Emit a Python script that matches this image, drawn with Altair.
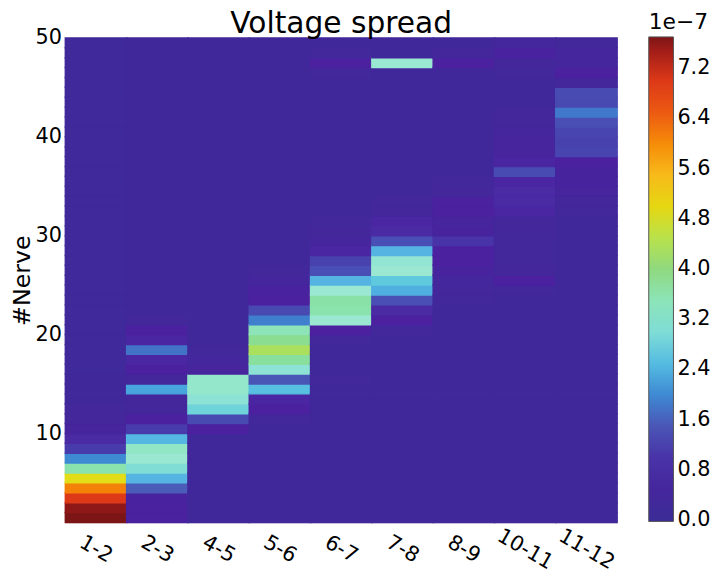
import altair as alt
import pandas as pd

pairs = ["1-2", "2-3", "4-5", "5-6", "6-7", "7-8", "8-9", "10-11", "11-12"]

# values in units of 1e-7, nerve 1 (bottom) .. nerve 49 (top)
col_1_2 = [7.7, 7.6, 7.0, 6.1, 4.9, 3.6, 2.0, 1.1, 0.9, 0.55,
           0.4, 0.35, 0.3, 0.3, 0.3, 0.25, 0.25, 0.25, 0.25, 0.25,
           0.25, 0.25, 0.25, 0.25, 0.25, 0.25, 0.25, 0.25, 0.25, 0.25,
           0.25, 0.25, 0.25, 0.25, 0.25, 0.25, 0.25, 0.25, 0.25, 0.25,
           0.25, 0.25, 0.25, 0.25, 0.25, 0.25, 0.25, 0.25, 0.25]
col_2_3 = [0.75, 0.75, 0.7, 1.6, 2.4, 3.0, 3.2, 3.35, 2.45, 1.1,
           0.8, 0.4, 0.4, 2.25, 0.4, 0.8, 0.85, 1.8, 0.85, 0.8,
           0.35, 0.3, 0.3, 0.3, 0.3, 0.3, 0.3, 0.3, 0.3, 0.3,
           0.3, 0.3, 0.3, 0.3, 0.3, 0.3, 0.3, 0.3, 0.3, 0.3,
           0.3, 0.3, 0.3, 0.3, 0.3, 0.3, 0.3, 0.3, 0.3]
col_4_5 = [0.3, 0.3, 0.3, 0.3, 0.3, 0.3, 0.3, 0.3, 0.3, 0.8,
           1.3, 2.85, 3.1, 3.3, 3.3, 0.55, 0.45, 0.35, 0.3, 0.3,
           0.3, 0.3, 0.3, 0.3, 0.3, 0.3, 0.3, 0.3, 0.3, 0.3,
           0.3, 0.3, 0.3, 0.3, 0.3, 0.3, 0.3, 0.3, 0.3, 0.3,
           0.3, 0.3, 0.3, 0.3, 0.3, 0.3, 0.3, 0.3, 0.3]
col_5_6 = [0.3, 0.3, 0.3, 0.3, 0.3, 0.3, 0.3, 0.3, 0.3, 0.3,
           0.35, 0.8, 0.85, 2.55, 1.5, 3.1, 3.75, 4.35, 3.85, 3.5,
           1.9, 1.3, 0.8, 0.7, 0.5, 0.35, 0.3, 0.3, 0.3, 0.3,
           0.3, 0.3, 0.3, 0.3, 0.3, 0.3, 0.3, 0.3, 0.3, 0.3,
           0.3, 0.3, 0.3, 0.3, 0.3, 0.3, 0.3, 0.3, 0.3]
col_6_7 = [0.3, 0.3, 0.3, 0.3, 0.3, 0.3, 0.3, 0.3, 0.3, 0.3,
           0.3, 0.3, 0.3, 0.3, 0.35, 0.3, 0.3, 0.3, 0.35, 0.8,
           3.2, 3.6, 3.65, 3.2, 2.4, 1.4, 1.2, 0.85, 0.5, 0.4,
           0.35, 0.3, 0.3, 0.3, 0.3, 0.3, 0.3, 0.3, 0.3, 0.3,
           0.3, 0.3, 0.3, 0.3, 0.3, 0.35, 0.8, 0.35, 0.3]
col_7_8 = [0.3, 0.3, 0.3, 0.3, 0.3, 0.3, 0.3, 0.3, 0.3, 0.3,
           0.3, 0.3, 0.3, 0.3, 0.3, 0.3, 0.3, 0.3, 0.3, 0.35,
           0.8, 0.9, 1.4, 2.35, 2.7, 3.2, 3.15, 2.4, 1.4, 0.9,
           0.85, 0.4, 0.35, 0.3, 0.3, 0.3, 0.3, 0.3, 0.3, 0.3,
           0.3, 0.3, 0.3, 0.3, 0.3, 0.3, 3.2, 0.3, 0.3]
col_8_9 = [0.3, 0.3, 0.3, 0.3, 0.3, 0.3, 0.3, 0.3, 0.3, 0.3,
           0.3, 0.3, 0.3, 0.3, 0.3, 0.3, 0.3, 0.3, 0.3, 0.3,
           0.3, 0.3, 0.35, 0.4, 0.45, 0.6, 0.8, 0.8, 1.0, 0.6,
           0.55, 0.8, 0.75, 0.4, 0.35, 0.3, 0.3, 0.3, 0.3, 0.3,
           0.3, 0.3, 0.3, 0.3, 0.3, 0.3, 0.8, 0.4, 0.3]
col_10_11 = [0.3, 0.3, 0.3, 0.3, 0.3, 0.3, 0.3, 0.3, 0.3, 0.3,
             0.3, 0.3, 0.3, 0.3, 0.3, 0.3, 0.3, 0.3, 0.3, 0.3,
             0.3, 0.3, 0.3, 0.35, 0.8, 0.4, 0.35, 0.35, 0.35, 0.35,
             0.4, 0.85, 0.9, 0.9, 0.85, 1.35, 0.85, 0.55, 0.55, 0.5,
             0.4, 0.35, 0.3, 0.3, 0.3, 0.35, 0.4, 0.7, 0.45]
col_11_12 = [0.3, 0.3, 0.3, 0.3, 0.3, 0.3, 0.3, 0.3, 0.3, 0.3,
             0.3, 0.3, 0.3, 0.3, 0.3, 0.3, 0.3, 0.3, 0.3, 0.3,
             0.3, 0.3, 0.3, 0.3, 0.3, 0.3, 0.3, 0.3, 0.3, 0.3,
             0.3, 0.35, 0.4, 0.55, 0.6, 0.6, 0.8, 1.25, 1.2, 1.25,
             1.4, 1.85, 1.3, 1.35, 0.4, 0.8, 0.5, 0.5, 0.35]

columns = [col_1_2, col_2_3, col_4_5, col_5_6, col_6_7, col_7_8,
           col_8_9, col_10_11, col_11_12]

# colormap stops (value in 1e-7)
cmap_stops = [-0.02, 0.8, 1.6, 2.4, 3.2, 4.0, 4.8, 5.6, 6.4, 7.2, 7.7]
cmap_colors = ["#3b2c96", "#4b21a0", "#4b5cb8", "#55b4e2", "#9ae8d2",
               "#8fd97f", "#dde31b", "#f9b41e", "#ef5f10", "#d62a1a",
               "#7c1515"]
bar_ticks = [0.0, 0.8, 1.6, 2.4, 3.2, 4.0, 4.8, 5.6, 6.4, 7.2]
y_ticks = [10, 20, 30, 40, 50]

rows = []
for p, col in zip(pairs, columns):
    assert len(col) == 49
    for i, v in enumerate(col):
        rows.append({"pair": p, "nerve": i + 1, "nerve_end": i + 2, "v": v})
df = pd.DataFrame(rows)

FONT = "DejaVu Sans"

chart = alt.Chart(df).mark_rect(
    strokeWidth=1.5, stroke=alt.expr("scale('color', datum.v)")
).encode(
    x=alt.X("pair:N", sort=pairs,
            scale=alt.Scale(paddingInner=0, paddingOuter=0),
            axis=alt.Axis(title=None, labelAngle=30, labelAlign="center",
                          labelBaseline="middle", labelPadding=27,
                          labelFontSize=21, ticks=False, domain=False,
                          grid=False)),
    y=alt.Y("nerve:Q", scale=alt.Scale(domain=[1, 50], nice=False, zero=False),
            axis=alt.Axis(values=y_ticks, title="#Nerve", titleFontSize=24,
                          titleFontWeight="normal", titlePadding=1,
                          labelFontSize=21, ticks=False, domain=False,
                          grid=False, labelPadding=4)),
    y2="nerve_end:Q",
    color=alt.Color("v:Q", scale=alt.Scale(domain=cmap_stops, range=cmap_colors),
                    legend=alt.Legend(type="gradient", title="1e\u22127",
                                      orient="none",
                                      legendX=590, legendY=-26, padding=0,
                                      direction="vertical",
                                      gradientLength=490, gradientThickness=25,
                                      values=bar_ticks, format=".1f",
                                      labelFontSize=21, titleFontSize=22,
                                      titleFontWeight="normal",
                                      titleAnchor="start", titlePadding=3,
                                      labelOffset=4, labelOverlap=False,
                                      labelBaseline="middle",
                                      gradientStrokeColor="#555",
                                      gradientStrokeWidth=1)),
).properties(
    width=558, height=490,
    title=alt.TitleParams("Voltage spread", fontSize=30, fontWeight="normal",
                          font=FONT, anchor="middle", offset=2, dy=29),
    padding={"left": 58, "top": 27, "right": 98, "bottom": 56},
    autosize=alt.AutoSizeParams(type="none"),
).configure_view(stroke="#222", strokeWidth=1).configure(
    font=FONT
).configure_axis(labelColor="black", titleColor="black", labelFont=FONT,
                 titleFont=FONT, grid=False).configure_legend(
    labelFont=FONT, titleFont=FONT, labelColor="black", titleColor="black")

chart.save("out.html", embed_options={"renderer": "svg", "actions": False})
